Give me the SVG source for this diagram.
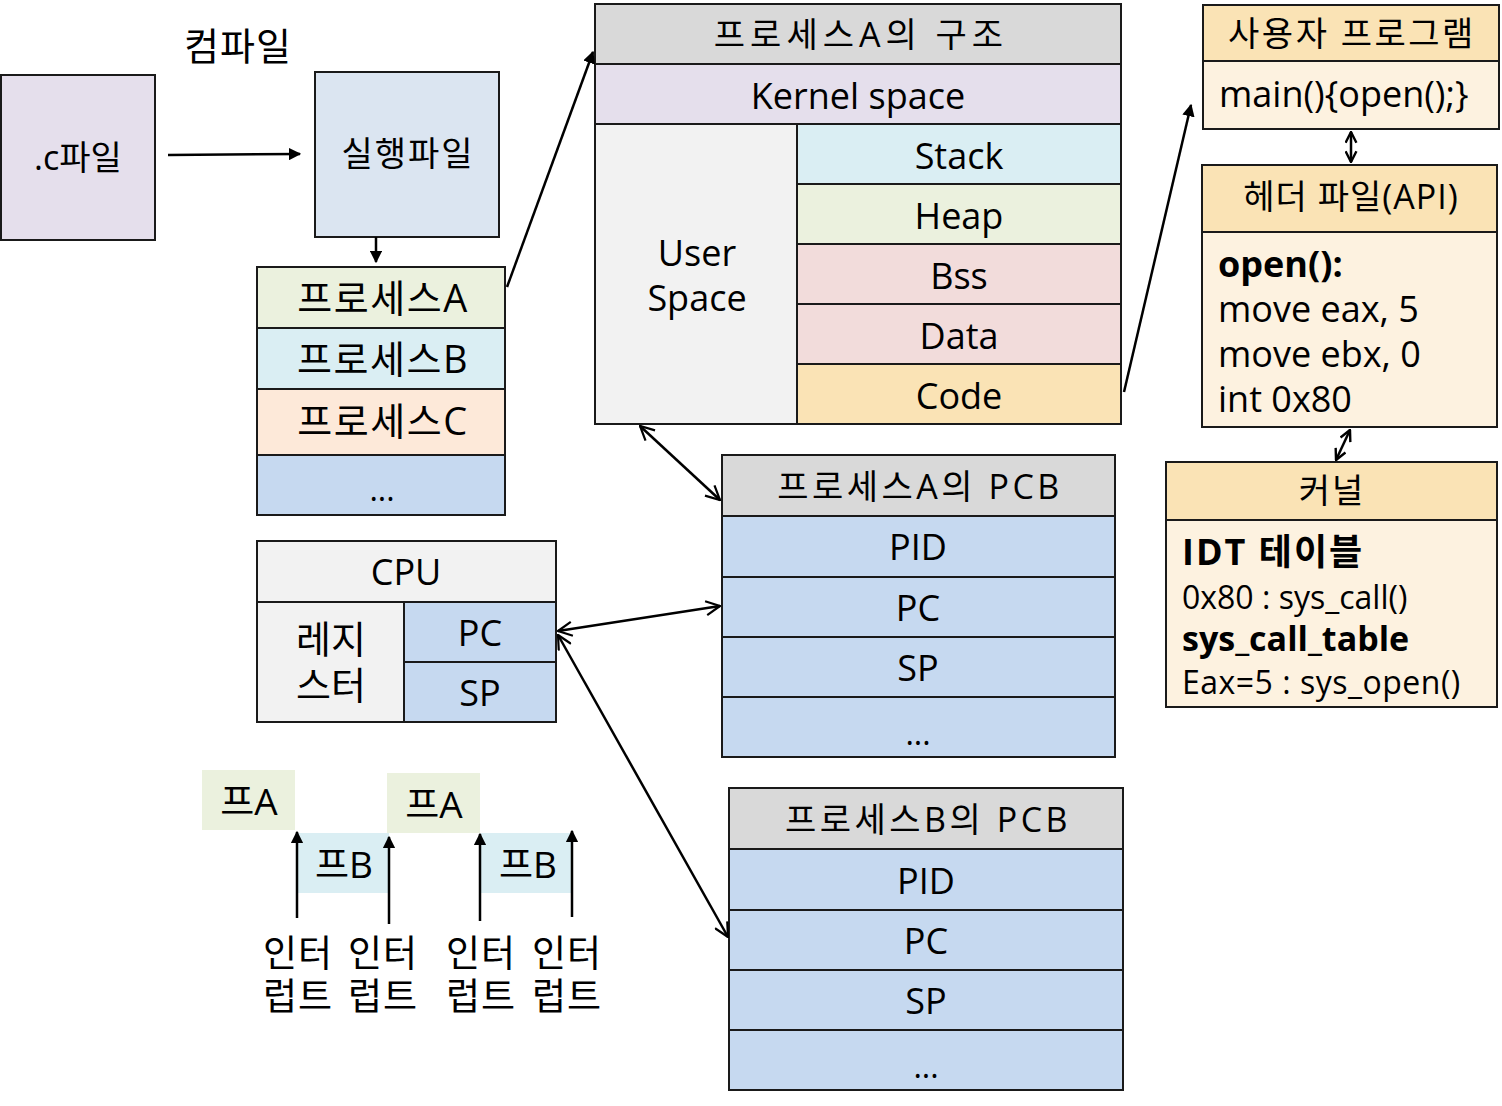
<svg xmlns="http://www.w3.org/2000/svg" width="1502" height="1106" viewBox="0 0 1502 1106">
<defs>
<style>
text{font-family:"Open Sans","Noto Sans CJK KR",sans-serif;fill:#000;font-size:36px;text-anchor:middle;dominant-baseline:central}
.l{text-anchor:start}
.b{font-weight:bold}
.s{font-size:32px}
.t{font-size:34px}
.k{font-size:38px;letter-spacing:1.5px}
rect{stroke:#1a1a1a;stroke-width:2}
.nb{stroke:none}
.ln{stroke:#000;stroke-width:2.5;fill:none}
.dl{stroke:#000;stroke-width:2.5;fill:none}
</style>
<marker id="fa" viewBox="0 0 10 10" refX="9" refY="5" markerWidth="5" markerHeight="5" orient="auto" markerUnits="strokeWidth">
<path d="M0,0 L10,5 L0,10 z" fill="#000"/>
</marker>
<marker id="oa" viewBox="0 0 16 16" refX="15" refY="8" markerWidth="16" markerHeight="16" orient="auto-start-reverse" markerUnits="userSpaceOnUse">
<path d="M1,1 L15,8 L1,15" fill="none" stroke="#000" stroke-width="2.2"/>
</marker>
<marker id="sa" viewBox="0 0 12 12" refX="11" refY="6" markerWidth="13" markerHeight="13" orient="auto-start-reverse" markerUnits="userSpaceOnUse">
<path d="M1,1 L11,6 L1,11" fill="none" stroke="#000" stroke-width="2.2"/>
</marker>
</defs>
<rect x="0" y="0" width="1502" height="1106" fill="#fff" class="nb"/>

<g id="compile-label"><text x="238" y="45" style="font-size:38px;letter-spacing:1px">컴파일</text></g>

<g id="cfile">
<rect x="1" y="75" width="154" height="165" fill="#e5dfec"/>
<text x="78" y="157" class="t">.c파일</text>
</g>

<g id="exe">
<rect x="315" y="72" width="184" height="165" fill="#dbe5f1"/>
<text x="408" y="153" class="t" style="letter-spacing:2px">실행파일</text>
</g>

<g id="process-list">
<rect x="257" y="267" width="248" height="61" fill="#ebf1de"/>
<rect x="257" y="328" width="248" height="61" fill="#daeef3"/>
<rect x="257" y="389" width="248" height="66" fill="#fde9d9"/>
<rect x="257" y="455" width="248" height="60" fill="#c6d9f0"/>
<text x="383" y="297" class="k">프로세스A</text>
<text x="383" y="358" class="k">프로세스B</text>
<text x="383" y="420" class="k">프로세스C</text>
<text x="382" y="488" class="s">...</text>
</g>

<g id="procA-structure">
<rect x="595" y="4" width="526" height="60" fill="#d9d9d9"/>
<rect x="595" y="64" width="526" height="60" fill="#e5dfec"/>
<rect x="595" y="124" width="202" height="300" fill="#f2f2f2"/>
<rect x="797" y="124" width="324" height="60" fill="#daeef3"/>
<rect x="797" y="184" width="324" height="60" fill="#ebf1de"/>
<rect x="797" y="244" width="324" height="60" fill="#f2dcdb"/>
<rect x="797" y="304" width="324" height="60" fill="#f2dcdb"/>
<rect x="797" y="364" width="324" height="60" fill="#fae3b5"/>
<text x="861" y="34" class="t" style="letter-spacing:5px">프로세스A의 구조</text>
<text x="858" y="95">Kernel space</text>
<text x="697" y="252">User</text>
<text x="697" y="297">Space</text>
<text x="959" y="155">Stack</text>
<text x="959" y="215">Heap</text>
<text x="959" y="275">Bss</text>
<text x="959" y="335">Data</text>
<text x="959" y="395">Code</text>
</g>

<g id="user-program">
<rect x="1203" y="5" width="296" height="56" fill="#fae3b5"/>
<rect x="1203" y="61" width="296" height="68" fill="#fdf2e0"/>
<text x="1352" y="33" class="t" style="letter-spacing:2.5px">사용자 프로그램</text>
<text x="1219" y="93" class="l">main(){open();}</text>
</g>

<g id="header-file">
<rect x="1202" y="165" width="295" height="67" fill="#fae3b5"/>
<rect x="1202" y="232" width="295" height="195" fill="#fdf2e0"/>
<text x="1351" y="196" class="t" style="letter-spacing:1px">헤더 파일(API)</text>
<text x="1218" y="263" class="l b">open():</text>
<text x="1218" y="308" class="l">move eax, 5</text>
<text x="1218" y="353" class="l">move ebx, 0</text>
<text x="1218" y="398" class="l">int 0x80</text>
</g>

<g id="kernel">
<rect x="1166" y="462" width="331" height="58" fill="#fae3b5"/>
<rect x="1166" y="520" width="331" height="187" fill="#fdf2e0"/>
<text x="1332" y="490" class="t" style="letter-spacing:2px">커널</text>
<text x="1182" y="551" class="l b" style="letter-spacing:2px">IDT 테이블</text>
<text x="1182" y="596" class="l s">0x80 : sys_call()</text>
<text x="1182" y="638" class="l b t">sys_call_table</text>
<text x="1182" y="681" class="l s" style="letter-spacing:0.5px">Eax=5 : sys_open()</text>
</g>

<g id="pcbA">
<rect x="722" y="455" width="393" height="61" fill="#d9d9d9"/>
<rect x="722" y="516" width="393" height="61" fill="#c6d9f0"/>
<rect x="722" y="577" width="393" height="60" fill="#c6d9f0"/>
<rect x="722" y="637" width="393" height="60" fill="#c6d9f0"/>
<rect x="722" y="697" width="393" height="60" fill="#c6d9f0"/>
<text x="920" y="486" class="t" style="letter-spacing:3.5px">프로세스A의 PCB</text>
<text x="918" y="546">PID</text>
<text x="918" y="607">PC</text>
<text x="918" y="667">SP</text>
<text x="918" y="732" class="s">...</text>
</g>

<g id="pcbB">
<rect x="729" y="788" width="394" height="61" fill="#d9d9d9"/>
<rect x="729" y="849" width="394" height="61" fill="#c6d9f0"/>
<rect x="729" y="910" width="394" height="60" fill="#c6d9f0"/>
<rect x="729" y="970" width="394" height="60" fill="#c6d9f0"/>
<rect x="729" y="1030" width="394" height="60" fill="#c6d9f0"/>
<text x="928" y="819" class="t" style="letter-spacing:3.5px">프로세스B의 PCB</text>
<text x="926" y="880">PID</text>
<text x="926" y="940">PC</text>
<text x="926" y="1000">SP</text>
<text x="926" y="1065" class="s">...</text>
</g>

<g id="cpu">
<rect x="257" y="541" width="299" height="61" fill="#f2f2f2"/>
<rect x="257" y="602" width="147" height="120" fill="#f2f2f2"/>
<rect x="404" y="602" width="152" height="60" fill="#c6d9f0"/>
<rect x="404" y="662" width="152" height="60" fill="#c6d9f0"/>
<text x="406" y="571">CPU</text>
<text x="331" y="638" style="font-size:38px">레지</text>
<text x="331" y="684" style="font-size:38px">스터</text>
<text x="480" y="632">PC</text>
<text x="480" y="692">SP</text>
</g>

<g id="timeline">
<rect x="202" y="770" width="93" height="60" fill="#ebf1de" class="nb"/>
<rect x="298" y="833" width="91" height="60" fill="#daeef3" class="nb"/>
<rect x="387" y="773" width="93" height="60" fill="#ebf1de" class="nb"/>
<rect x="481" y="833" width="91" height="60" fill="#daeef3" class="nb"/>
<text x="249" y="800" style="font-size:37px">프A</text>
<text x="344" y="863" style="font-size:37px">프B</text>
<text x="434" y="803" style="font-size:37px">프A</text>
<text x="528" y="863" style="font-size:37px">프B</text>
<text x="298" y="952" style="font-size:37px;letter-spacing:1px">인터<tspan x="298" dy="43">럽트</tspan></text>
<text x="383" y="952" style="font-size:37px;letter-spacing:1px">인터<tspan x="383" dy="43">럽트</tspan></text>
<text x="481" y="952" style="font-size:37px;letter-spacing:1px">인터<tspan x="481" dy="43">럽트</tspan></text>
<text x="567" y="952" style="font-size:37px;letter-spacing:1px">인터<tspan x="567" dy="43">럽트</tspan></text>
</g>

<g id="connectors">
<line x1="168" y1="155" x2="300" y2="154" class="ln" marker-end="url(#fa)"/>
<line x1="376" y1="237" x2="376" y2="262" class="ln" marker-end="url(#fa)"/>
<line x1="507" y1="287" x2="593" y2="52" class="ln" marker-end="url(#fa)"/>
<line x1="1124" y1="392" x2="1191" y2="105" class="ln" marker-end="url(#fa)"/>
<line x1="1351" y1="132" x2="1351" y2="162" class="dl" marker-start="url(#sa)" marker-end="url(#sa)"/>
<line x1="1350" y1="430" x2="1336" y2="460" class="dl" marker-start="url(#sa)" marker-end="url(#sa)"/>
<line x1="640" y1="426" x2="720" y2="500" class="dl" marker-start="url(#oa)" marker-end="url(#oa)"/>
<line x1="558" y1="631" x2="720" y2="606" class="dl" marker-start="url(#oa)" marker-end="url(#oa)"/>
<line x1="558" y1="635" x2="728" y2="937" class="dl" marker-start="url(#oa)" marker-end="url(#oa)"/>
<line x1="297" y1="918" x2="297" y2="832" class="ln" marker-end="url(#fa)"/>
<line x1="389" y1="924" x2="389" y2="837" class="ln" marker-end="url(#fa)"/>
<line x1="480" y1="921" x2="480" y2="834" class="ln" marker-end="url(#fa)"/>
<line x1="572" y1="917" x2="572" y2="831" class="ln" marker-end="url(#fa)"/>
</g>
</svg>
